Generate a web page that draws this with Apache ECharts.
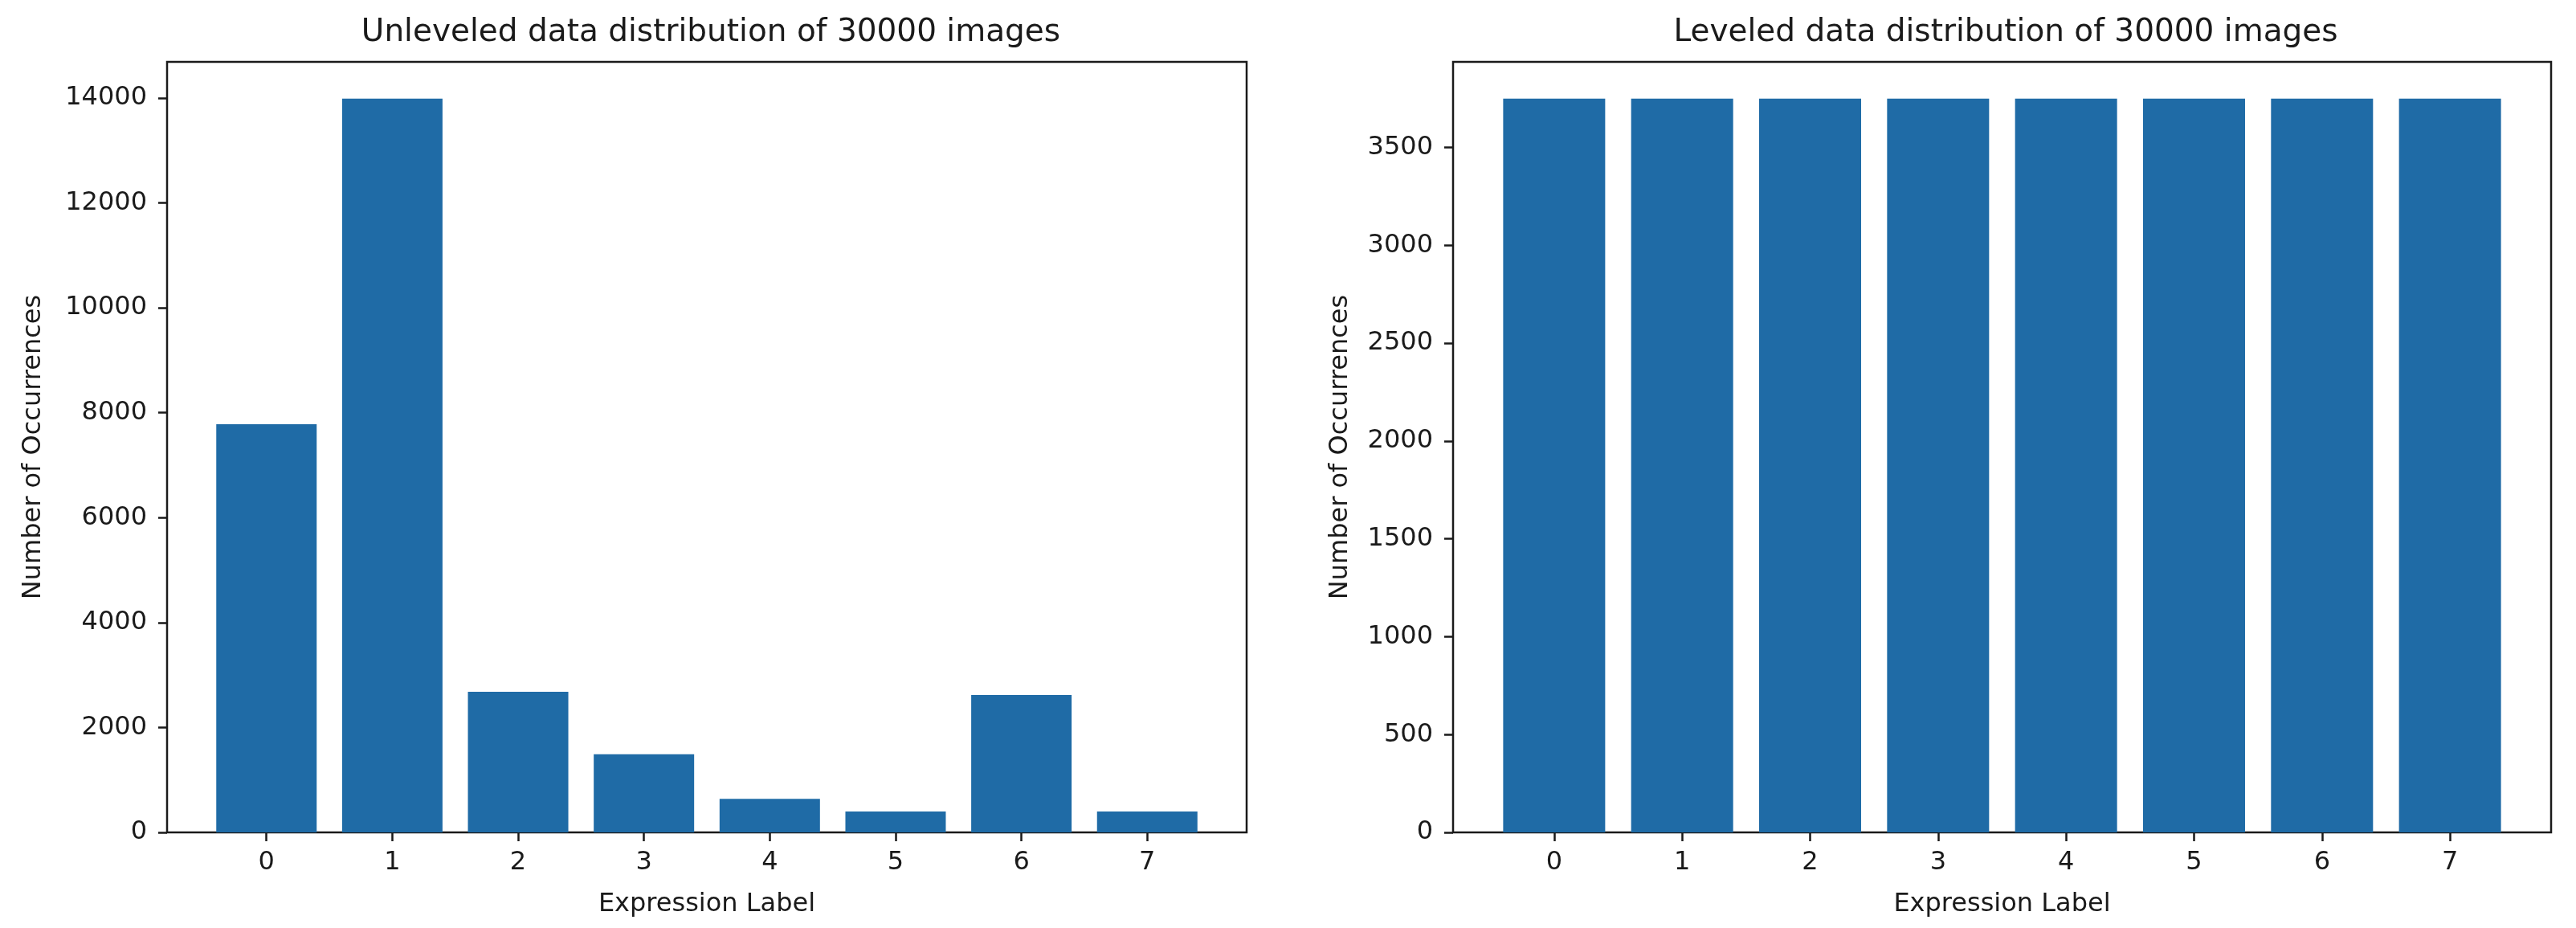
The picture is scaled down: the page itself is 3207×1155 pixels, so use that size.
<!DOCTYPE html>
<html>
<head>
<meta charset="utf-8">
<script src="https://cdn.jsdelivr.net/npm/echarts@6/dist/echarts.min.js"></script>
<style>
  html, body { margin: 0; padding: 0; background: #fff; }
  #chart { width: 3207px; height: 1155px; }
</style>
</head>
<body>
<div id="chart"></div>
<script>
// expression labels 0..7
const labels = [0, 1, 2, 3, 4, 5, 6, 7]
// counts before levelling
const unleveled = [7780, 13990, 2680, 1490, 640, 400, 2620, 400]
// counts after levelling, 30000 / 8 each
const leveled = [3750, 3750, 3750, 3750, 3750, 3750, 3750, 3750]
// y tick labels of both panels
const leftTicks = [0, 2000, 4000, 6000, 8000, 10000, 12000, 14000]
const rightTicks = [0, 500, 1000, 1500, 2000, 2500, 3000, 3500]
const titles = ['Unleveled data distribution of 30000 images', 'Leveled data distribution of 30000 images']

const FONT = 'DejaVu Sans'
const INK = '#1a1a1a'
const BAR = '#1f6ba6'

const chart = echarts.init(document.getElementById('chart'))

function xAxisFor(idx) {
  return {
    type: 'value',
    gridIndex: idx,
    min: -0.79,
    max: 7.79,
    name: 'Expression Label',
    nameLocation: 'middle',
    nameGap: 74,
    nameTextStyle: { fontFamily: FONT, fontSize: 32, color: INK },
    axisLine: { show: false, onZero: false },
    splitLine: { show: false },
    axisTick: { show: true, customValues: labels, length: 11, lineStyle: { color: INK, width: 2.5 } },
    axisLabel: { customValues: labels, fontFamily: FONT, fontSize: 32, color: INK, margin: 22,
      formatter: v => String(v) }
  }
}

function yAxisFor(idx, max, ticks, gap) {
  return {
    type: 'value',
    gridIndex: idx,
    min: 0,
    max: max,
    name: 'Number of Occurrences',
    nameLocation: 'middle',
    nameGap: gap,
    nameTextStyle: { fontFamily: FONT, fontSize: 32, color: INK },
    axisLine: { show: false, onZero: false },
    splitLine: { show: false },
    axisTick: { show: true, customValues: ticks, length: 11, lineStyle: { color: INK, width: 2.5 } },
    axisLabel: { customValues: ticks, fontFamily: FONT, fontSize: 32, color: INK, margin: 25,
      formatter: v => String(v) }
  }
}

chart.setOption({
  animation: false,
  backgroundColor: '#fff',
  title: [
    { text: titles[0], left: 880, top: 16, textAlign: 'center',
      textStyle: { fontFamily: FONT, fontSize: 39, fontWeight: 'normal', color: INK } },
    { text: titles[1], left: 2492, top: 16, textAlign: 'center',
      textStyle: { fontFamily: FONT, fontSize: 39, fontWeight: 'normal', color: INK } }
  ],
  grid: [
    { left: 208, right: 1655, top: 77, bottom: 119, show: true, borderColor: INK, borderWidth: 2.5, backgroundColor: 'transparent' },
    { left: 1809, right: 31, top: 77, bottom: 119, show: true, borderColor: INK, borderWidth: 2.5, backgroundColor: 'transparent' }
  ],
  xAxis: [xAxisFor(0), xAxisFor(1)],
  yAxis: [
    yAxisFor(0, 14690, leftTicks, 150),
    yAxisFor(1, 3937.5, rightTicks, 124)
  ],
  series: [
    {
      type: 'bar',
      xAxisIndex: 0,
      yAxisIndex: 0,
      barWidth: 125,
      itemStyle: { color: BAR },
      data: labels.map((l, i) => [l, unleveled[i]])
    },
    {
      type: 'bar',
      xAxisIndex: 1,
      yAxisIndex: 1,
      barWidth: 127,
      itemStyle: { color: BAR },
      data: labels.map((l, i) => [l, leveled[i]])
    }
  ]
})
</script>
</body>
</html>
